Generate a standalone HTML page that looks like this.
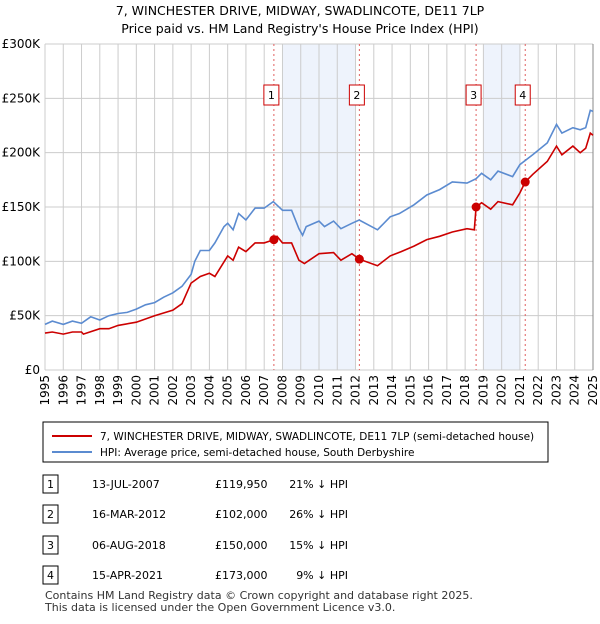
<!DOCTYPE html>
<html><head><meta charset="utf-8"><style>
body{margin:0;background:#fff;font-family:"DejaVu Sans","Liberation Sans",sans-serif}
svg text{font-family:"DejaVu Sans","Liberation Sans",sans-serif}
</style></head><body>
<svg id="c" width="600" height="620" xmlns="http://www.w3.org/2000/svg">
<text x="300" y="15" text-anchor="middle" font-size="12.5">7, WINCHESTER DRIVE, MIDWAY, SWADLINCOTE, DE11 7LP</text>
<text x="300" y="33" text-anchor="middle" font-size="12.5">Price paid vs. HM Land Registry's House Price Index (HPI)</text>
<g id="plot"></g>
<rect x="43" y="422" width="505" height="40" fill="#fff" stroke="#000" stroke-width="1"/>
<line x1="52" y1="436" x2="92" y2="436" stroke="#cc0000" stroke-width="2"/>
<text x="100" y="440" font-size="10.5">7, WINCHESTER DRIVE, MIDWAY, SWADLINCOTE, DE11 7LP (semi-detached house)</text>
<line x1="52" y1="452" x2="92" y2="452" stroke="#5b8bd0" stroke-width="2"/>
<text x="100" y="456" font-size="10.5">HPI: Average price, semi-detached house, South Derbyshire</text>
<g id="tbl"></g>
<text x="45" y="599" font-size="11" fill="#333">Contains HM Land Registry data © Crown copyright and database right 2025.</text>
<text x="45" y="611" font-size="11" fill="#333">This data is licensed under the Open Government Licence v3.0.</text>
</svg>
<script>
const hpiYears=[1995,1995.4,1996,1996.5,1997,1997.5,1998,1998.5,1999,1999.5,2000,2000.5,2001,2001.5,2002,2002.5,2003,2003.2,2003.5,2004,2004.3,2004.8,2005,2005.3,2005.6,2006,2006.5,2007,2007.5,2008,2008.5,2008.9,2009.1,2009.3,2010,2010.3,2010.8,2011.2,2011.8,2012.2,2013.2,2013.9,2014.4,2015.2,2015.9,2016.6,2017.3,2018.1,2018.6,2018.9,2019.4,2019.8,2020.6,2021,2021.7,2022.5,2023,2023.3,2023.9,2024.3,2024.6,2024.85,2025];
const hpiValues=[42,45,42,45,43,49,46,50,52,53,56,60,62,67,71,77,88,100,110,110,117,132,135,129,144,138,149,149,155,147,147,130,124,132,137,132,137,130,135,138,129,141,144,152,161,166,173,172,176,181,175,183,178,189,198,209,226,218,223,221,223,239,238];
const priceYears=[1995,1995.4,1996,1996.5,1997,1997.1,1998,1998.5,1999,2000,2001,2002,2002.5,2003,2003.5,2004,2004.3,2005,2005.3,2005.6,2006,2006.5,2007,2007.53,2007.7,2008,2008.5,2008.9,2009.2,2010,2010.8,2011.2,2011.8,2012.21,2013.2,2013.9,2014.5,2015.2,2015.9,2016.6,2017.3,2018.1,2018.5,2018.6,2018.9,2019.4,2019.8,2020.6,2021,2021.29,2021.7,2022.5,2023,2023.3,2023.9,2024.3,2024.6,2024.85,2025];
const priceValues=[34,35,33,35,35,33,38,38,41,44,50,55,61,80,86,89,86,105,101,113,109,117,117,119.95,123,117,117,101,98,107,108,101,107,102,96,105,109,114,120,123,127,130,129,150,154,148,155,152,163,173,180,192,206,198,206,200,204,218,216];
const saleLabels=["1","2","3","4"];
const saleYears=[2007.53,2012.21,2018.6,2021.29];
const saleValues=[119.95,102,150,173];
const saleDates=["13-JUL-2007","16-MAR-2012","06-AUG-2018","15-APR-2021"];
const salePrices=["£119,950","£102,000","£150,000","£173,000"];
const saleDiffs=["21% ↓ HPI","26% ↓ HPI","15% ↓ HPI","9% ↓ HPI"];
const shadeRanges=[[2008,2012],[2019,2021]];
const yTicks=[0,50,100,150,200,250,300];
const yTickLabels=["£0","£50K","£100K","£150K","£200K","£250K","£300K"];
const xTicks=[1995,1996,1997,1998,1999,2000,2001,2002,2003,2004,2005,2006,2007,2008,2009,2010,2011,2012,2013,2014,2015,2016,2017,2018,2019,2020,2021,2022,2023,2024,2025];

const NS="http://www.w3.org/2000/svg";
const X0=45,X1=593,Y0=370,Y1=44;
const xs=y=>X0+(y-1995)/30*(X1-X0);
const ys=v=>Y0-v/300*(Y0-Y1);
const g=document.getElementById('plot');
function mk(t,a,p){const e=document.createElementNS(NS,t);for(const k in a)e.setAttribute(k,a[k]);(p||g).appendChild(e);return e;}
shadeRanges.forEach(r=>{
 const e=mk('rect',{x:xs(r[0]),y:Y1,width:xs(r[1])-xs(r[0]),height:Y0-Y1,fill:'#eef3fc'});
 
 
});
xTicks.forEach(t=>{
 const l=mk('line',{x1:xs(t),x2:xs(t),y1:Y1,y2:Y0,stroke:'#cccccc','stroke-width':1});
 
 
 const tx=mk('text',{x:0,y:0,'font-size':12,'text-anchor':'end',transform:`translate(${xs(t)+4},375) rotate(-90)`});
 tx.textContent=t;
 
 
});
yTicks.forEach((t,i)=>{
 const l=mk('line',{x1:X0,x2:X1,y1:ys(t),y2:ys(t),stroke:'#cccccc','stroke-width':1});
 
 
 const tx=mk('text',{x:40,y:ys(t)+4,'font-size':12,'text-anchor':'end'});
 tx.textContent=yTickLabels[i];
 
 
});
const ax=mk('line',{x1:X1,x2:X1,y1:Y1,y2:Y0,stroke:'#888','stroke-width':1});


saleYears.forEach((y,i)=>{
 const l=mk('line',{x1:xs(y),x2:xs(y),y1:Y1,y2:Y0,stroke:'#e06060','stroke-width':1,'stroke-dasharray':'2,3'});
 
 
});
function path(xa,va,col,name){
 const d=xa.map((x,i)=>(i?'L':'M')+xs(x).toFixed(1)+','+ys(va[i]).toFixed(1)).join('');
 const p=mk('path',{d:d,fill:'none',stroke:col,'stroke-width':1.6});
 
 
}
path(hpiYears,hpiValues,'#5b8bd0','hpi-line');
path(priceYears,priceValues,'#cc0000','price-paid-line');
saleYears.forEach((y,i)=>{
 const c=mk('circle',{cx:xs(y),cy:ys(saleValues[i]),r:4.5,fill:'#cc0000'});
 
 
 const b=mk('rect',{x:xs(y)-10,y:85,width:15,height:20,fill:'#fff',stroke:'#cc0000','stroke-width':1});
 
 
 const t=mk('text',{x:xs(y)-2.5,y:99,'font-size':11,'text-anchor':'middle'});
 t.textContent=saleLabels[i];
 
 
});
const tb=document.getElementById('tbl');
const rowY=[484,514,545,575];
saleLabels.forEach((s,i)=>{
 const y=rowY[i];
 const b=mk('rect',{x:43,y:y-9,width:15,height:18,fill:'#fff',stroke:'#000','stroke-width':1},tb);
 
 
 const cells=[[50.5,s,'middle'],[92,saleDates[i],'start'],[215,salePrices[i],'start'],[348,saleDiffs[i],'end']];
 cells.forEach(c=>{
  const t=mk('text',{x:c[0],y:y+4,'font-size':11,'text-anchor':c[2]},tb);
  t.textContent=c[1];
  
  
 });
});
</script>
</body></html>
